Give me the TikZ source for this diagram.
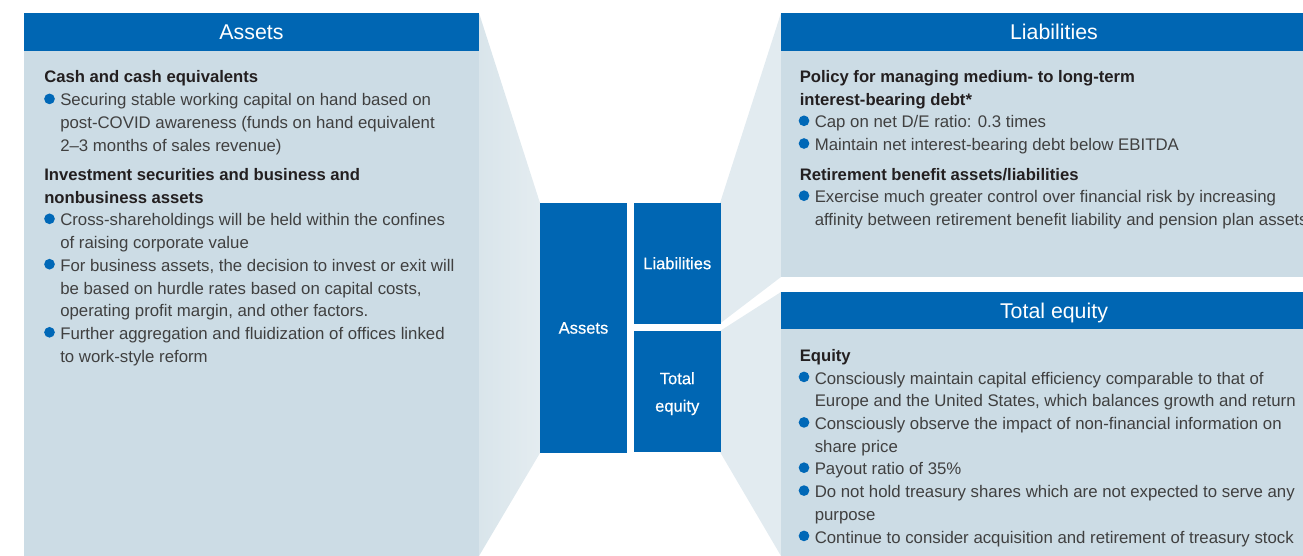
\documentclass[tikz,border=0pt]{standalone}
\usepackage{fontspec}
\setmainfont{Liberation Sans}
\newfontfamily\medfont{Liberation Sans}[FakeBold=0.5]
\definecolor{headblue}{HTML}{0066B3}
\definecolor{panelc}{HTML}{CCDCE5}
\definecolor{wedgeR}{HTML}{E2EBF0}
\definecolor{wedgeA}{HTML}{D9E5EB}
\definecolor{wedgeB}{HTML}{E4ECF0}
\definecolor{bodytext}{HTML}{404040}
\definecolor{headtext}{HTML}{231F20}
\definecolor{bulletblue}{HTML}{0068B7}
\newcounter{plnc}
\tikzset{
  bodytxt/.style={inner sep=0pt, anchor=base west, text=bodytext, font=\fontsize{12.6pt}{15pt}\selectfont},
  headtxt/.style={inner sep=0pt, anchor=base west, text=headtext, font=\bfseries\fontsize{12.5pt}{15pt}\selectfont},
  headerbar/.style={fill=headblue, inner sep=0pt, text=white, font=\fontsize{16pt}{18pt}\selectfont, text height=11.5pt, text depth=0pt},
  centerbox/.style={fill=headblue, inner sep=0pt, text=white, align=center, font=\medfont\fontsize{12.4pt}{20.6pt}\selectfont},
}
\newcommand\ptl[3]{\stepcounter{plnc}\node[bodytxt] (l\theplnc) at (#1,#2) {#3};}
\newcommand\phd[3]{\stepcounter{plnc}\node[headtxt] (l\theplnc) at (#1,#2) {#3};}
\newcommand\pbl[3]{\fill[bulletblue] (#1-10.5,#2-7.1) circle[radius=4pt];\ptl{#1}{#2}{#3}}
\begin{document}
\begin{tikzpicture}[x=0.75pt,y=-0.75pt]
\useasboundingbox (0,0) rectangle (1303,556);
\clip (0,0) rectangle (1303,556);
% wedges
\shade[left color=wedgeA, right color=wedgeB] (479,13) -- (540,203) -- (540,453) -- (479,556) -- cycle;
\fill[wedgeR] (720,203) -- (781,13) -- (781,277) -- (720,323.5) -- cycle;
\fill[wedgeR] (720,331) -- (781,292) -- (781,556) -- (720,452) -- cycle;
% panels
\fill[panelc] (24,13) rectangle (479,570);
\fill[panelc] (781,13) rectangle (1327,277);
\fill[panelc] (781,292) rectangle (1327,570);
\node[headerbar, minimum width=341.25pt, minimum height=28.5pt] (hAssets) at (251.5,32) {Assets};
\node[headerbar, minimum width=409.5pt, minimum height=28.5pt] (hLiab) at (1054,32) {Liabilities};
\node[headerbar, minimum width=409.5pt, minimum height=27.75pt] (hEquity) at (1054,310.5) {Total equity};
% centre boxes
\node[centerbox, minimum width=65.25pt, minimum height=187.5pt] (bAssets) at (583.5,328) {Assets};
\node[centerbox, minimum width=64.9pt, minimum height=90.4pt] (bLiab) at (677.25,263.25) {Liabilities};
\node[centerbox, minimum width=64.9pt, minimum height=90.75pt] (bEquity) at (677.25,391.5) {\rule{0pt}{12.2pt}Total\\equity};
% left panel text
\phd{44}{82.5}{Cash and cash equivalents}
\pbl{60}{106}{Securing stable working capital on hand based on}
\ptl{60}{128.7}{post-COVID awareness (funds on hand equivalent}
\ptl{60}{151.4}{2–3 months of sales revenue)}
\phd{44}{180.5}{Investment securities and business and}
\phd{44}{203.2}{nonbusiness assets}
\pbl{60}{225.9}{Cross-shareholdings will be held within the confines}
\ptl{60}{248.6}{of raising corporate value}
\pbl{60}{271.3}{For business assets, the decision to invest or exit will}
\ptl{60}{294}{be based on hurdle rates based on capital costs,}
\ptl{60}{316.7}{operating profit margin, and other factors.}
\pbl{60}{339.4}{Further aggregation and fluidization of offices linked}
\ptl{60}{362.1}{to work-style reform}
% liabilities text
\phd{799.5}{82.5}{Policy for managing medium- to long-term}
\phd{799.5}{105.2}{interest-bearing debt*}
\pbl{814.5}{127.9}{Cap on net D/E ratio: 0.3 times}
\pbl{814.5}{150.6}{Maintain net interest-bearing debt below EBITDA}
\phd{799.5}{180.1}{Retirement benefit assets/liabilities}
\pbl{814.5}{202.8}{Exercise much greater control over financial risk by increasing}
\ptl{814.5}{225.5}{affinity between retirement benefit liability and pension plan assets}
% equity text
\phd{799.5}{361.5}{Equity}
\pbl{814.5}{384}{Consciously maintain capital efficiency comparable to that of}
\ptl{814.5}{406.5}{Europe and the United States, which balances growth and return}
\pbl{814.5}{429.5}{Consciously observe the impact of non-financial information on}
\ptl{814.5}{452}{share price}
\pbl{814.5}{474.8}{Payout ratio of 35\%}
\pbl{814.5}{497.7}{Do not hold treasury shares which are not expected to serve any}
\ptl{814.5}{520}{purpose}
\pbl{814.5}{543}{Continue to consider acquisition and retirement of treasury stock}
\end{tikzpicture}
\end{document}
